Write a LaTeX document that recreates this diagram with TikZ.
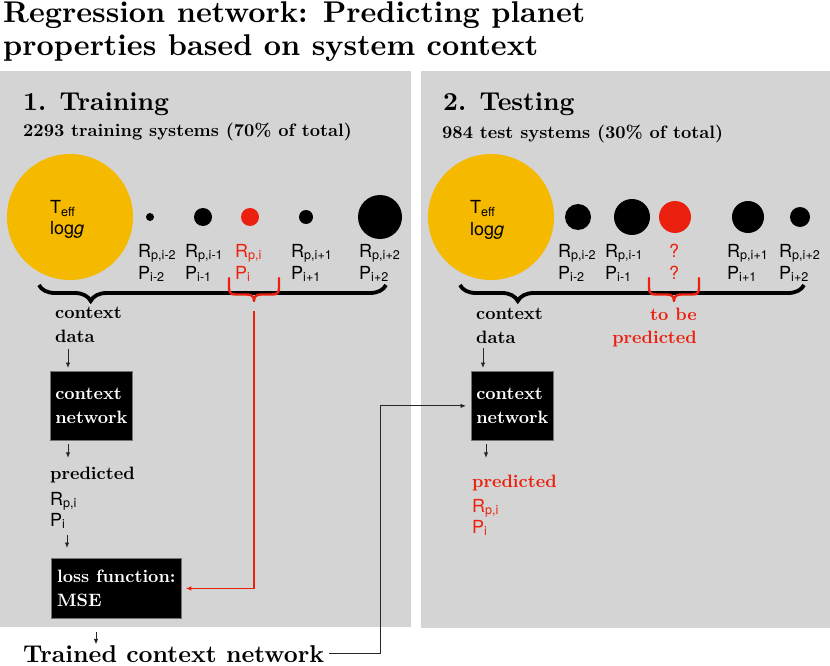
\documentclass[tikz,border=0pt]{standalone}
\usepackage{fontspec}
\newfontfamily\hv{TeX Gyre Heros}
\newfontfamily\bxten{lmroman10-bold.otf}
\usetikzlibrary{arrows.meta,decorations.pathreplacing}
\definecolor{panelgray}{RGB}{212,212,212}
\definecolor{staryellow}{RGB}{245,185,0}
\definecolor{predred}{RGB}{236,32,14}
\tikzset{
  titletxt/.style={font=\bxten\fontsize{30}{34}\selectfont, inner sep=0pt, anchor=base west},
  headtxt/.style={font=\bxten\fontsize{25.9}{30}\selectfont, inner sep=0pt, anchor=base west},
  midtxt/.style={font=\bxten\fontsize{17.9}{24}\selectfont, inner sep=0pt, anchor=base west},
  bigtxt/.style={font=\bxten\fontsize{24.3}{30}\selectfont, inner sep=0pt, anchor=base west},
  lab/.style={font=\hv\fontsize{18}{22}\selectfont, inner sep=0pt, anchor=base west},
  star/.style={circle, fill=staryellow, inner sep=0pt, minimum size=126pt},
  dot/.style={circle, fill=black, inner sep=0pt, minimum size=#1},
  reddot/.style={circle, fill=predred, inner sep=0pt, minimum size=#1},
  netbox/.style={fill=black, draw=black!55, line width=0.8pt, text=white, align=left,
     font=\bxten\fontsize{17.9}{24}\selectfont, inner sep=0pt, anchor=north west},
  arr/.style={draw=black!85, line width=0.9pt, -{Latex[length=5.5pt,width=4.5pt]}},
  redarr/.style={draw=predred, line width=1.1pt, -{Latex[length=5.5pt,width=4.5pt]}},
  blkbrace/.style={draw=black, line width=3.8pt, decorate},
  redbrc/.style={draw=predred, line width=2.4pt, line join=round, line cap=round},
  redbrace/.pic={\draw[redbrc] (-25,0) -- (-25,10) .. controls (-25,15) and (-23,16.5) .. (-18,16.5)
     -- (-7,16.5) .. controls (-3,16.5) and (0,18) .. (0,23) .. controls (0,18) and (3,16.5) .. (7,16.5)
     -- (18,16.5) .. controls (23,16.5) and (25,15) .. (25,10) -- (25,0);}
}
\begin{document}
\begin{tikzpicture}[x=1pt,y=-1pt]
\useasboundingbox (0,0) rectangle (830,666);
% panels
\fill[panelgray] (0,71) rectangle (411,627);
\fill[panelgray] (421,71) rectangle (830,628);
% title
\node[titletxt] (title1) at (3,23) {Regression network: Predicting planet};
\node[titletxt] (title2) at (3,56) {properties based on system context};
% ---------------- training panel
\node[headtxt] (head1) at (23,111) {1. Training};
\node[midtxt] (sub1) at (23,137) {2293 training systems (70\% of total)};
\node[star] (star1) at (70,217) {};
\node[lab] (teffA) at (50,213) {T\textsubscript{eff}};
\node[lab] (loggA) at (50,234) {log\textit{g}};
\node[dot=8pt] (dA1) at (150,217) {};
\node[dot=18pt] (dA2) at (203,217) {};
\node[reddot=18pt] (dA3) at (250,217) {};
\node[dot=14pt] (dA4) at (306,217) {};
\node[dot=44pt] (dA5) at (380,217) {};
\node[lab] (rA1) at (138,257) {R\textsubscript{p,i-2}};
\node[lab] (pA1) at (138,279) {P\textsubscript{i-2}};
\node[lab] (rA2) at (185,257) {R\textsubscript{p,i-1}};
\node[lab] (pA2) at (185,279) {P\textsubscript{i-1}};
\node[lab, text=predred] (rA3) at (235,257) {R\textsubscript{p,i}};
\node[lab, text=predred] (pA3) at (235,279) {P\textsubscript{i}};
\node[lab] (rA4) at (291,257) {R\textsubscript{p,i+1}};
\node[lab] (pA4) at (291,279) {P\textsubscript{i+1}};
\node[lab] (rA5) at (359,257) {R\textsubscript{p,i+2}};
\node[lab] (pA5) at (359,279) {P\textsubscript{i+2}};
\draw[blkbrace, decoration={brace, mirror, amplitude=16pt, aspect=0.149}] (39,285) -- (386,285);
\pic at (254,278) {redbrace};
\coordinate (redtip) at (254,311);
\node[midtxt] (ctxA1) at (55,318) {context};
\node[midtxt] (ctxA2) at (55,342) {data};
\node[netbox, minimum width=82pt, minimum height=69pt] (ctx1) at (50,371) {context\\network};
\node[midtxt] (predA) at (50,479) {predicted};
\node[lab] (prA) at (50,505) {R\textsubscript{p,i}};
\node[lab] (ppA) at (50,526) {P\textsubscript{i}};
\node[netbox, minimum width=130pt, minimum height=60pt] (loss) at (51,558) {loss function:\\MSE};
\node[bigtxt] (trained) at (23,662) {Trained context network};
\coordinate (axA) at (68,0);
\coordinate (axB) at (67,0);
\coordinate (axC) at (96,0);
\draw[arr, shorten <=7pt, shorten >=3pt] (ctxA2.south -| axA) -- (ctx1.north -| axA);
\draw[arr, shorten <=3pt, shorten >=8.5pt] (ctx1.south -| axA) -- (predA.north -| axA);
\draw[arr, shorten <=6pt, shorten >=10pt] (ppA.south -| axB) -- (loss.north -| axB);
\draw[arr, shorten <=13pt, shorten >=0.5pt] (loss.south -| axC) -- (trained.north -| axC);
\draw[redarr, shorten >=4pt] (redtip) |- (loss.east);
% ---------------- testing panel
\node[headtxt] (head2) at (443,111) {2. Testing};
\node[midtxt] (sub2) at (442,139) {984 test systems (30\% of total)};
\node[star] (star2) at (491,217) {};
\node[lab] (teffB) at (470,213) {T\textsubscript{eff}};
\node[lab] (loggB) at (470,235) {log\textit{g}};
\node[dot=26pt] (dB1) at (578,217) {};
\node[dot=36pt] (dB2) at (632,217) {};
\node[reddot=32pt] (dB3) at (675,217) {};
\node[dot=32pt] (dB4) at (748,217) {};
\node[dot=20pt] (dB5) at (800,217) {};
\node[lab] (rB1) at (558,257) {R\textsubscript{p,i-2}};
\node[lab] (pB1) at (558,279) {P\textsubscript{i-2}};
\node[lab] (rB2) at (605,257) {R\textsubscript{p,i-1}};
\node[lab] (pB2) at (605,279) {P\textsubscript{i-1}};
\node[lab, anchor=base, text=predred] (rB3) at (674,257) {?};
\node[lab, anchor=base, text=predred] (pB3) at (674,279) {?};
\node[lab] (rB4) at (727,257) {R\textsubscript{p,i+1}};
\node[lab] (pB4) at (727,279) {P\textsubscript{i+1}};
\node[lab] (rB5) at (779,257) {R\textsubscript{p,i+2}};
\node[lab] (pB5) at (779,279) {P\textsubscript{i+2}};
\draw[blkbrace, decoration={brace, mirror, amplitude=16pt, aspect=0.168}] (460,285) -- (804,285);
\pic at (674,278) {redbrace};
\node[midtxt] (ctxB1) at (476,319) {context};
\node[midtxt] (ctxB2) at (476,343) {data};
\node[midtxt, anchor=base east, text=predred] (tobe) at (697,320) {to be};
\node[midtxt, anchor=base east, text=predred] (tbpred) at (697,343) {predicted};
\node[netbox, minimum width=82pt, minimum height=69pt] (ctx2) at (471,371) {context\\network};
\node[midtxt, text=predred] (predB) at (472,487) {predicted};
\node[lab, text=predred] (prB) at (472,512) {R\textsubscript{p,i}};
\node[lab, text=predred] (ppB) at (472,533) {P\textsubscript{i}};
\coordinate (bxA) at (483,0);
\coordinate (bxB) at (486,0);
\draw[arr, shorten <=5pt, shorten >=3pt] (ctxB2.south -| bxA) -- (ctx2.north -| bxA);
\draw[arr, shorten <=3pt, shorten >=16.5pt] (ctx2.south -| bxB) -- (predB.north -| bxB);
% trained network -> testing
\coordinate (turn) at (380,0);
\draw[arr, shorten <=5pt, shorten >=5pt] (trained.east) -- (trained.east -| turn) |- (ctx2.west);
\end{tikzpicture}
\end{document}
